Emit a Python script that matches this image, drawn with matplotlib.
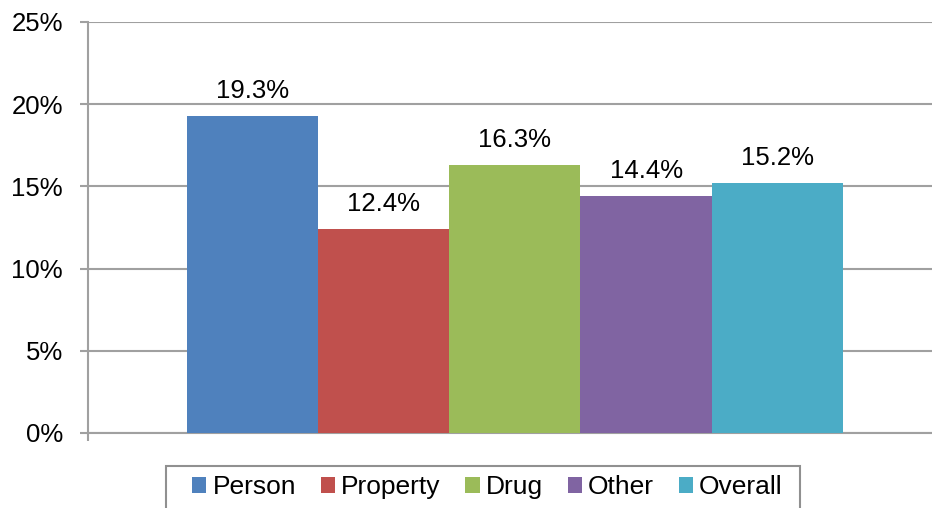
import matplotlib
matplotlib.use("Agg")
import matplotlib.pyplot as plt
from matplotlib.patches import Patch, Rectangle
import numpy as np

categories = ["Person", "Property", "Drug", "Other", "Overall"]
values = [19.3, 12.4, 16.3, 14.4, 15.2]
colors = ["#4F81BD", "#C0504D", "#9BBB59", "#8064A2", "#4BACC6"]
yticks = [0, 5, 10, 15, 20, 25]
ytick_labels = ["0%", "5%", "10%", "15%", "20%", "25%"]

plt.rcParams['font.family'] = ['Liberation Sans', 'DejaVu Sans']
FS = 18.5
W, H = 932, 508
fig = plt.figure(figsize=(W / 100, H / 100), dpi=100)
ax = fig.add_axes([88 / W, (H - 433) / H, (W - 88) / W, (433 - 22) / H])

x = np.arange(len(categories))
bars = ax.bar(x, values, width=1.0, color=colors, zorder=3)
for xi, v in zip(x, values):
    ax.annotate(f"{v:.1f}%", (xi, v), xytext=(0, 9.4), textcoords="offset points",
                ha="center", va="bottom", fontsize=FS, color="black")

grid_c = "#A0A0A0"
ax.set_ylim(0, 25)
ax.set_xlim(-1.255, 5.18)
ax.set_yticks(yticks)
ax.set_yticklabels(ytick_labels, fontsize=FS)
ax.yaxis.grid(True, color=grid_c, linewidth=1.5, zorder=0)
ax.set_axisbelow(True)
ax.tick_params(axis="y", length=6, width=1.5, color=grid_c, pad=12)
ax.set_xticks([-1.255])
ax.set_xticklabels([""])
ax.tick_params(axis="x", length=5.5, width=1.5, color=grid_c)
for s in ["top", "right"]:
    ax.spines[s].set_visible(False)
for s in ["left", "bottom"]:
    ax.spines[s].set_color(grid_c)
    ax.spines[s].set_linewidth(1.5)

handles = [Patch(facecolor=c, edgecolor="none") for c in colors]
leg = fig.legend(handles, categories, loc="center left",
                 bbox_to_anchor=(192 / W, 1 - 487 / H), ncol=5, fontsize=19,
                 frameon=False, handlelength=0.54, handleheight=0.54,
                 handletextpad=0.24, columnspacing=0.93, borderpad=0,
                 borderaxespad=0)
fig.add_artist(Rectangle((166 / W, -0.02), (800 - 166) / W, 0.02 + (H - 466) / H,
                         transform=fig.transFigure, facecolor="none",
                         edgecolor="#909090", linewidth=1.5, clip_on=False))

fig.savefig("out.png", dpi=100)
